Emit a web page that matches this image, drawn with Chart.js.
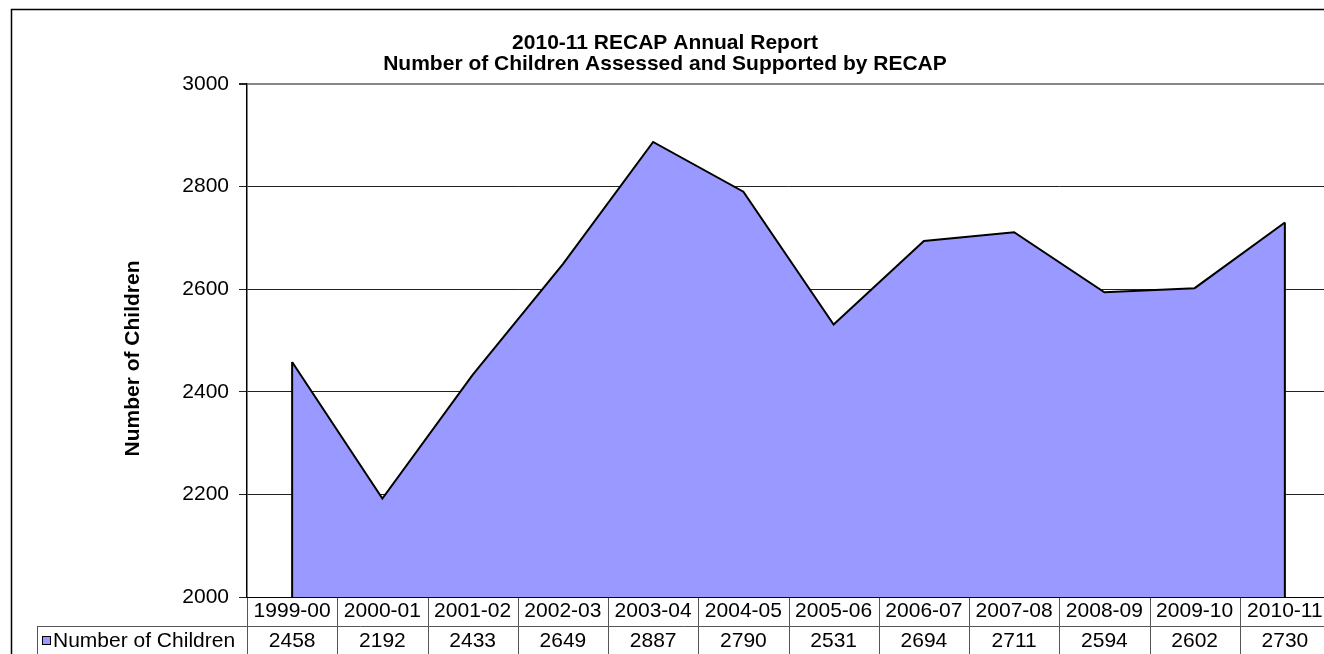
<!DOCTYPE html>
<html lang="en">
<head>
<meta charset="UTF-8" />
<title>2010-11 RECAP Annual Report</title>
<script src="https://cdn.jsdelivr.net/npm/chart.js"></script>
<style>
  html, body { margin: 0; padding: 0; background: #fff; overflow: hidden; }
  #wrap { width: 1330px; height: 654px; }
</style>
</head>
<body>
<div id="wrap"><canvas id="recapChart" width="1330" height="654"></canvas></div>
<script>
  const years = ['1999-00', '2000-01', '2001-02', '2002-03', '2003-04', '2004-05',
                 '2005-06', '2006-07', '2007-08', '2008-09', '2009-10', '2010-11'];
  const children = [2458, 2192, 2433, 2649, 2887, 2790, 2531, 2694, 2711, 2594, 2602, 2730];
  const seriesName = 'Number of Children';
  const titleLines = ['2010-11 RECAP Annual Report', 'Number of Children Assessed and Supported by RECAP'];
  const yMin = 2000, yMax = 3000, yStep = 200;

  const FONT = "'Liberation Sans', Arial, sans-serif";
  const AREA_COLOR = '#9999ff';

  // frame, y title, area end edges and the data table under the x axis
  const tablePlugin = {
    id: 'dataTable',
    beforeDraw(chart) {
      const ctx = chart.ctx;
      ctx.save();
      ctx.fillStyle = '#fff';
      ctx.fillRect(0, 0, chart.width, chart.height);
      ctx.strokeStyle = '#000';
      ctx.lineWidth = 1.5;
      ctx.strokeRect(11.5, 9.5, chart.width + 40, chart.height + 40);
      ctx.restore();
    },
    afterDatasetsDraw(chart) {
      const ctx = chart.ctx;
      const area = chart.chartArea;
      const pts = chart.getDatasetMeta(0).data;
      ctx.save();
      ctx.strokeStyle = '#000';
      ctx.lineWidth = 2;
      [pts[0], pts[pts.length - 1]].forEach(p => {
        ctx.beginPath();
        ctx.moveTo(p.x, p.y);
        ctx.lineTo(p.x, area.bottom);
        ctx.stroke();
      });
      ctx.restore();
    },
    afterDraw(chart) {
      const ctx = chart.ctx;
      const xs = chart.scales.x;
      const area = chart.chartArea;
      const w = xs.getPixelForValue(1) - xs.getPixelForValue(0);
      const rowTop = area.bottom + 29;
      const bottom = chart.height + 10;
      ctx.save();

      // y axis title, sits a little below the middle of the plot like the original
      ctx.save();
      ctx.translate(133, (area.top + area.bottom) / 2 + 18);
      ctx.rotate(-Math.PI / 2);
      ctx.fillStyle = '#000';
      ctx.font = 'bold 21px ' + FONT;
      ctx.textAlign = 'center';
      ctx.textBaseline = 'middle';
      ctx.fillText(seriesName, 0, 0);
      ctx.restore();

      ctx.strokeStyle = '#555';
      ctx.lineWidth = 1;
      // column dividers
      for (let i = 0; i <= years.length; i++) {
        const x = Math.round(xs.getPixelForValue(i) - w / 2) + 0.5;
        ctx.beginPath();
        ctx.moveTo(x, area.bottom);
        ctx.lineTo(x, bottom);
        ctx.stroke();
      }
      // row line and left edge of the legend cell
      ctx.beginPath();
      ctx.moveTo(37.5, rowTop + 0.5);
      ctx.lineTo(chart.width, rowTop + 0.5);
      ctx.moveTo(37.5, rowTop);
      ctx.lineTo(37.5, bottom);
      ctx.stroke();
      // x axis line
      ctx.strokeStyle = '#000';
      ctx.beginPath();
      ctx.moveTo(area.left, area.bottom + 0.5);
      ctx.lineTo(chart.width, area.bottom + 0.5);
      ctx.stroke();

      // legend key
      const midY = rowTop + 15;
      ctx.fillStyle = AREA_COLOR;
      ctx.fillRect(42, midY - 5, 9, 9);
      ctx.strokeStyle = '#000';
      ctx.strokeRect(42.5, midY - 4.5, 8, 8);
      ctx.fillStyle = '#000';
      ctx.font = '21px ' + FONT;
      ctx.textBaseline = 'middle';
      ctx.textAlign = 'left';
      ctx.fillText(seriesName, 53, midY);
      // values
      ctx.textAlign = 'center';
      children.forEach((v, i) => {
        ctx.fillText(String(v), xs.getPixelForValue(i), midY);
      });
      ctx.restore();
    }
  };

  new Chart(document.getElementById('recapChart'), {
    type: 'line',
    data: {
      labels: years,
      datasets: [{
        label: seriesName,
        data: children,
        fill: 'start',
        backgroundColor: AREA_COLOR,
        borderColor: '#000',
        borderWidth: 2,
        pointRadius: 0,
        tension: 0
      }]
    },
    options: {
      responsive: false,
      animation: false,
      devicePixelRatio: 1,
      layout: { padding: 0 },
      plugins: {
        legend: { display: false },
        tooltip: { enabled: false },
        title: {
          display: true,
          text: titleLines,
          color: '#000',
          font: { family: FONT, size: 21, weight: 'bold', lineHeight: 1.0 },
          padding: { top: 33, bottom: 9 }
        }
      },
      scales: {
        x: {
          offset: true,
          grid: { display: false, offset: true, drawTicks: false },
          border: { display: false },
          ticks: {
            color: '#000',
            padding: 2,
            maxRotation: 0,
            autoSkip: false,
            font: { family: FONT, size: 21 }
          },
          afterFit(scale) { scale.height = 57; }
        },
        y: {
          min: yMin,
          max: yMax,
          ticks: {
            stepSize: yStep,
            color: '#000',
            padding: 10,
            font: { family: FONT, size: 21 },
            callback: v => String(v)
          },
          grid: {
            color: c => c.tick && c.tick.value === yMax ? '#888' : '#222',
            lineWidth: c => c.tick && c.tick.value === yMax ? 2 : 1,
            tickLength: 8,
            tickColor: '#222'
          },
          border: { display: true, color: '#000', width: 1.5 },
          afterFit(scale) { scale.width = 247; }
        }
      }
    },
    plugins: [tablePlugin]
  });
</script>
</body>
</html>
